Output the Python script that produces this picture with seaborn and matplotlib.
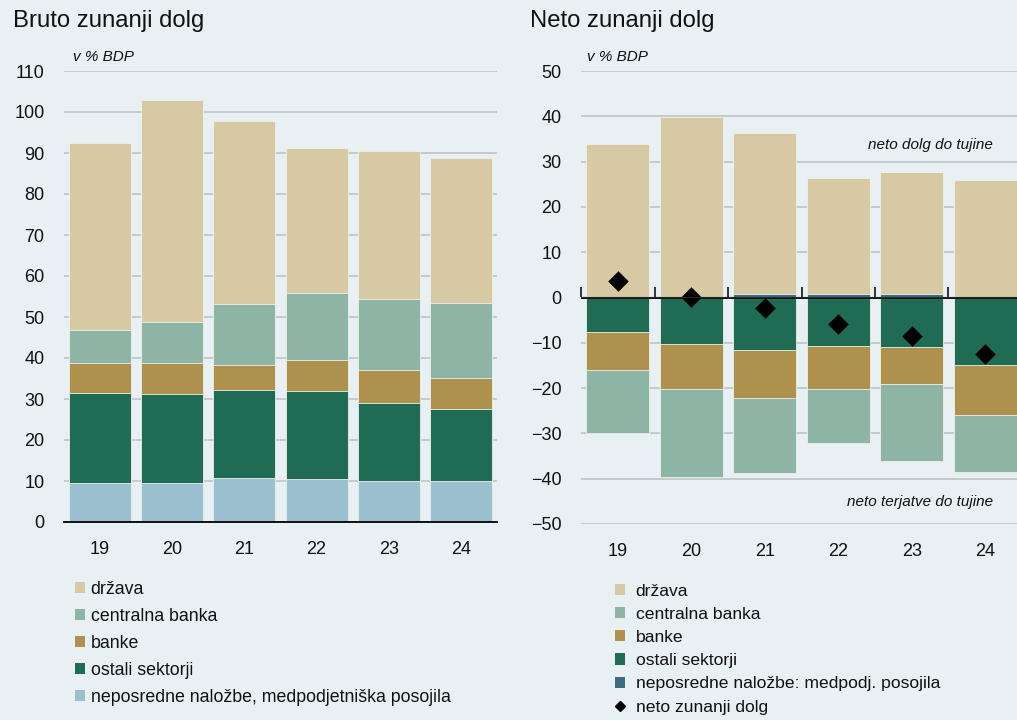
import numpy as np
import matplotlib
matplotlib.use("Agg")
import matplotlib.pyplot as plt
from matplotlib.patches import Patch
from matplotlib.lines import Line2D
import seaborn as sns

# ---------------- data ----------------
years = ["19", "20", "21", "22", "23", "24"]

# Bruto zunanji dolg (v % BDP)
gross_drzava = [45.7, 54.1, 44.7, 35.3, 36.3, 35.4]
gross_cb = [8.0, 10.0, 14.8, 16.4, 17.3, 18.2]
gross_banke = [7.4, 7.7, 6.1, 7.5, 8.0, 7.6]
gross_ostali = [22.0, 21.7, 21.5, 21.4, 19.1, 17.4]
gross_nep = [9.4, 9.4, 10.7, 10.5, 9.9, 10.1]

# Neto zunanji dolg (v % BDP)
net_drzava = [33.8, 39.9, 35.7, 25.5, 26.8, 25.7]
net_nep = [0.0, 0.0, 0.7, 0.8, 0.8, 0.2]
net_ostali = [-7.7, -10.3, -11.5, -10.8, -11.0, -14.8]
net_banke = [-8.4, -9.9, -10.7, -9.3, -8.0, -11.2]
net_cb = [-13.9, -19.5, -16.6, -12.0, -17.0, -12.5]
net_total = [3.7, 0.1, -2.3, -5.9, -8.5, -12.5]

legend_left = ["država", "centralna banka", "banke", "ostali sektorji",
               "neposredne naložbe, medpodjetniška posojila"]
legend_right = ["država", "centralna banka", "banke", "ostali sektorji",
                "neposredne naložbe: medpodj. posojila", "neto zunanji dolg"]

# ---------------- style ----------------
BG = "#E8F0F4"
C_DRZ = "#D7C9A3"
C_CB = "#8EB4A5"
C_BAN = "#AE914D"
C_OST = "#1F6B53"
C_NEP_L = "#9ABFCE"
C_NEP_R = "#3D6C80"
GRID = "#BFC3C5"
TXT = "#111111"

sns.set_style("white", {"axes.facecolor": BG, "figure.facecolor": BG})
plt.rcParams["font.family"] = ["Liberation Sans", "DejaVu Sans"]
plt.rcParams["axes.unicode_minus"] = True

fig = plt.figure(figsize=(10.17, 7.2), dpi=100)
fig.patch.set_facecolor(BG)

W = 1017.0
H = 720.0
ax1 = fig.add_axes([64 / W, 1 - 522 / H, 433 / W, 451 / H])
ax2 = fig.add_axes([581 / W, 1 - 524 / H, 441 / W, 453 / H])

BW = 0.86
bar_kw = dict(order=years, width=BW, saturation=1, errorbar=None,
              edgecolor="#EEF0EA", linewidth=0.6)

# ---------- left: stacked via cumulative layers ----------
g = np.array([gross_nep, gross_ostali, gross_banke, gross_cb, gross_drzava])
cum = np.cumsum(g, axis=0)
layers_left = [(cum[4], C_DRZ), (cum[3], C_CB), (cum[2], C_BAN),
               (cum[1], C_OST), (cum[0], C_NEP_L)]
for vals, col in layers_left:
    sns.barplot(x=years, y=vals, color=col, ax=ax1, **bar_kw)

# ---------- right ----------
pos_top = np.array(net_nep) + np.array(net_drzava)
neg1 = np.array(net_ostali)
neg2 = neg1 + np.array(net_banke)
neg3 = neg2 + np.array(net_cb)
layers_right = [(pos_top, C_DRZ), (np.array(net_nep), C_NEP_R),
                (neg3, C_CB), (neg2, C_BAN), (neg1, C_OST)]
for vals, col in layers_right:
    sns.barplot(x=years, y=vals, color=col, ax=ax2, **bar_kw)

ax2.axhline(0, color="black", lw=1.3, zorder=4)
sns.scatterplot(x=years, y=net_total, marker="D", s=110, color="black",
                edgecolor="black", linewidth=0, ax=ax2, zorder=6, legend=False)

# ---------- axes formatting ----------
def fmt(ax, ylim, yticks):
    ax.set_facecolor(BG)
    ax.set_xlim(-0.5, 5.5)
    ax.set_ylim(*ylim)
    ax.set_yticks(yticks)
    ax.set_axisbelow(True)
    ax.yaxis.grid(True, color=GRID, lw=1.2)
    ax.xaxis.grid(False)
    ax.set_xlabel("")
    ax.set_ylabel("")
    for s in ["top", "right", "left"]:
        ax.spines[s].set_visible(False)
    ax.tick_params(axis="y", length=0, pad=14, labelsize=13, colors=TXT)
    ax.tick_params(axis="x", which="major", length=0, pad=14, labelsize=13,
                   colors=TXT)

fmt(ax1, (0, 110), np.arange(0, 111, 10))
fmt(ax2, (-50, 50), np.arange(-50, 51, 10))

bounds = np.arange(-0.5, 6.0, 1.0)
ax1.spines["bottom"].set_color("black")
ax1.spines["bottom"].set_linewidth(1.3)
ax1.set_xticks(bounds, minor=True)
ax1.tick_params(axis="x", which="minor", length=7, width=1.1, color="black",
                direction="out")

ax2.spines["bottom"].set_visible(False)
sec = ax2.secondary_xaxis(0.5)
sec.set_xticks(bounds)
sec.set_xticklabels([""] * len(bounds))
sec.tick_params(axis="x", length=7, width=1.1, color="black", direction="out")
sec.spines["bottom"].set_visible(False)
sec.set_zorder(10)

# ---------- texts ----------
fig.text(13 / W, 1 - 21 / H, "Bruto zunanji dolg", fontsize=17.2,
         color=TXT, va="center", ha="left")
fig.text(530 / W, 1 - 21 / H, "Neto zunanji dolg", fontsize=17.2,
         color=TXT, va="center", ha="left")
fig.text(73 / W, 1 - 57 / H, "v % BDP", fontsize=11, style="italic",
         color=TXT, va="center", ha="left")
fig.text(587 / W, 1 - 57 / H, "v % BDP", fontsize=11, style="italic",
         color=TXT, va="center", ha="left")
fig.text(993 / W, 1 - 145 / H, "neto dolg do tujine", fontsize=11,
         style="italic", color=TXT, va="center", ha="right")
fig.text(993 / W, 1 - 502 / H, "neto terjatve do tujine", fontsize=11,
         style="italic", color=TXT, va="center", ha="right")

# ---------- legends ----------
h_left = [Patch(facecolor=c, edgecolor="none") for c in
          [C_DRZ, C_CB, C_BAN, C_OST, C_NEP_L]]
fig.legend(h_left, legend_left, loc="upper left",
           bbox_to_anchor=(71 / W, 1 - 577 / H), frameon=False,
           fontsize=12.8, handlelength=0.6, handleheight=0.6,
           handletextpad=0.3, labelspacing=0.57, borderaxespad=0,
           borderpad=0.2, labelcolor=TXT)

h_right = [Patch(facecolor=c, edgecolor="none") for c in
           [C_DRZ, C_CB, C_BAN, C_OST, C_NEP_R]]
h_right.append(Line2D([], [], marker="D", color="black", linestyle="none",
                      markersize=5))
fig.legend(h_right, legend_right, loc="upper left",
           bbox_to_anchor=(611 / W, 1 - 580 / H), frameon=False,
           fontsize=12.6, handlelength=0.6, handleheight=0.6,
           handletextpad=0.6, labelspacing=0.47, borderaxespad=0,
           borderpad=0.2, labelcolor=TXT)

fig.savefig("out.png", dpi=100, facecolor=BG)
